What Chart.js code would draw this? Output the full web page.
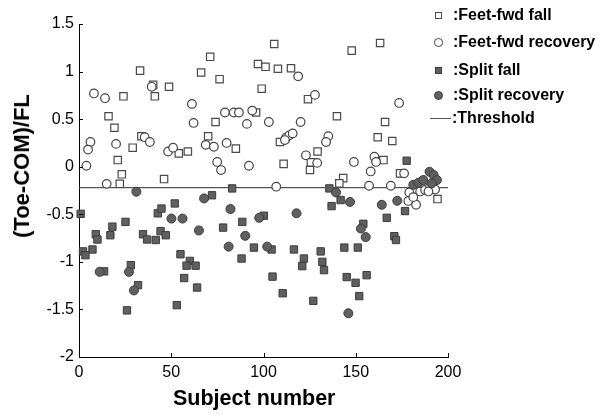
<!DOCTYPE html>
<html>
<head>
<meta charset="utf-8">
<script src="https://cdn.jsdelivr.net/npm/chart.js@4/dist/chart.umd.min.js"></script>
<style>
  html, body { margin:0; padding:0; background:#fff; }
  #wrap { position:relative; width:604px; height:418px; font-family:"Liberation Sans", Arial, sans-serif; }
  canvas { position:absolute; left:0; top:0; }
  .ttl { position:absolute; font-weight:bold; color:#000; white-space:nowrap; }
  .leg { position:absolute; font-size:16px; font-weight:bold; color:#000; white-space:nowrap; line-height:16px; }
  .sym { position:absolute; box-sizing:border-box; }
</style>
</head>
<body>
<div id="wrap">
  <canvas id="c" width="604" height="418"></canvas>
  <div class="ttl" id="xt" style="font-size:21.5px;left:173px;top:386px;">Subject number</div>
  <div class="ttl" id="yt" style="font-size:22px;left:22px;top:166px;transform:translate(-50%,-50%) rotate(-90deg);">(Toe-COM)/FL</div>

  <div class="sym" style="left:434.5px;top:11.5px;width:7px;height:7px;border:1.2px solid #4a4a4a;background:#fff;"></div>
  <div class="leg" style="left:453px;top:7px;">:Feet-fwd fall</div>
  <div class="sym" style="left:434px;top:38px;width:8.5px;height:8.5px;border:1.2px solid #444;border-radius:50%;background:#fff;"></div>
  <div class="leg" style="left:453px;top:34px;">:Feet-fwd recovery</div>
  <div class="sym" style="left:434.5px;top:66.5px;width:7px;height:7px;border:1px solid #3c3c3c;background:#606060;"></div>
  <div class="leg" style="left:453px;top:62px;">:Split fall</div>
  <div class="sym" style="left:434px;top:91px;width:9px;height:9px;border:1px solid #3c3c3c;border-radius:50%;background:#606060;"></div>
  <div class="leg" style="left:453px;top:87px;">:Split recovery</div>
  <div class="sym" style="left:430px;top:117.5px;width:21px;height:0;border-top:1.3px solid #555;"></div>
  <div class="leg" style="left:452px;top:110px;">:Threshold</div>
</div>
<script>
// ---- data ----
const feetFwdFall = [
  [33.1,1.01],[40.2,0.86],[41.1,0.74],[24.1,0.74],[16.0,0.53],[19.2,0.41],[33.8,0.32],[29.1,0.20],[21.0,0.07],[23.2,-0.08],[22.1,-0.18],
  [71.1,1.155],[66.2,0.99],[76.2,0.92],[48.8,0.84],[74.0,0.47],[70.0,0.32],[54.1,0.14],[59.0,0.16],[85.0,0.19],[46.1,-0.13],
  [105.8,1.29],[97.0,1.08],[101.1,1.05],[107.8,1.03],[114.9,1.035],[99.0,0.82],[124.1,0.71],[96.0,0.57],[108.9,0.26],[110.9,0.03],
  [125.2,-0.035],[125.7,0.046],[129.3,0.16],
  [147.8,1.22],[163.2,1.30],[139.8,0.53],[165.9,0.47],[161.9,0.31],[169.8,0.27],[165.0,0.07],[143.2,-0.12],[141.1,-0.175],
  [174.0,-0.07],[194.3,-0.34]
];
const feetFwdRecovery = [
  [8.1,0.77],[14.1,0.72],[39.4,0.84],[6.2,0.26],[4.9,0.18],[20.1,0.24],[35.6,0.31],[38.4,0.26],[4.0,0.01],[15.0,-0.18],
  [61.2,0.66],[62.1,0.46],[79.1,0.57],[83.9,0.57],[86.7,0.57],[48.3,0.16],[51.0,0.20],[68.7,0.23],[73.1,0.21],[80.0,0.25],
  [74.9,0.05],[77.0,-0.035],
  [118.8,0.95],[127.9,0.755],[93.9,0.59],[91.0,0.45],[102.9,0.47],[120.1,0.47],[112.2,0.305],[114.0,0.33],[115.8,0.35],
  [111.6,0.28],[92.1,0.01],[123.0,0.12],[106.9,-0.21],
  [173.5,0.67],[135.1,0.32],[133.9,0.26],[129.1,0.04],[149.0,0.05],[160.1,0.105],[161.0,0.05],[158.1,-0.05],[157.2,-0.2],
  [169.0,-0.2],[176.2,-0.07],
  [179.0,-0.27],[178.5,-0.36],[182.7,-0.40],[181.2,-0.32],[184.9,-0.26],[187.6,-0.245],[190.3,-0.21],[193.0,-0.24],[189.4,-0.26]
];
const splitFall = [
  [0.9,-0.495],[25.2,-0.58],[18.1,-0.63],[17.0,-0.72],[9.1,-0.71],[10.0,-0.765],[7.3,-0.87],[2.2,-0.89],[3.5,-0.93],
  [34.7,-0.71],[36.9,-0.765],[41.6,-0.77],[42.7,-0.49],[13.6,-1.10],[28.1,-1.035],[32.0,-1.245],[26.0,-1.51],
  [83.0,-0.228],[72.1,-0.30],[51.9,-0.386],[44.7,-0.44],[78.1,-0.64],[44.2,-0.677],[47.0,-0.72],[55.0,-0.92],[60.1,-0.99],
  [58.3,-1.04],[63.2,-1.04],[57.0,-1.17],[64.0,-1.27],[53.0,-1.455],[88.1,-0.965],[88.5,-0.58],
  [100.2,-0.515],[94.8,-0.85],[104.4,-0.87],[104.9,-1.155],
  [135.7,-0.228],[141.8,-0.35],[136.9,-0.414],[177.6,0.063],[176.7,-0.466],[166.8,-0.537],[154.1,-0.6],[170.9,-0.73],
  [171.8,-0.77],[116.5,-0.87],[121.9,-0.965],[121.0,-1.045],[131.0,-0.89],[131.9,-1.0],[132.8,-1.087],[143.8,-0.85],
  [151.1,-0.85],[145.1,-1.16],[149.9,-1.22],[155.9,-1.14],[151.9,-1.36],[110.4,-1.33],[127.0,-1.41]
];
const splitRecovery = [
  [31.1,-0.263],[11.2,-1.105],[27.1,-1.105],[29.8,-1.30],
  [67.8,-0.333],[50.1,-0.545],[56.1,-0.545],[82.1,-0.445],[65.0,-0.67],[81.1,-0.84],
  [97.7,-0.537],[117.9,-0.49],[90.1,-0.726],[102.0,-0.84],
  [139.3,-0.27],[146.9,-0.37],[164.1,-0.40],[172.5,-0.358],[152.8,-0.65],[155.4,-0.74],[146.0,-1.54],
  [190.0,-0.053],[192.2,-0.087],[181.2,-0.19],[184.0,-0.168],[186.6,-0.14],[194.0,-0.14],[191.2,-0.175]
];
const thresholdValue = -0.22;
const thresholdRange = [0, 200];
const xTicks = [0, 50, 100, 150, 200];
const yTicks = [1.5, 1, 0.5, 0, -0.5, -1, -1.5, -2];
const yTickLabels = ['1.5', '1', '0.5', '0', '-0.5', '-1', '-1.5', '-2'];

const toPts = a => a.map(p => ({x: p[0], y: p[1]}));

const inwardTicks = {
  id: 'inwardTicks',
  afterDraw(chart) {
    const ctx = chart.ctx, xs = chart.scales.x, ys = chart.scales.y;
    const ca = chart.chartArea;
    ctx.save();
    ctx.strokeStyle = '#000';
    ctx.lineWidth = 1;
    ctx.beginPath();
    xTicks.forEach(v => {
      const px = Math.round(xs.getPixelForValue(v)) + 0.5;
      ctx.moveTo(px, ca.bottom); ctx.lineTo(px, ca.bottom - 4);
    });
    yTicks.forEach(v => {
      const py = Math.round(ys.getPixelForValue(v)) + 0.5;
      ctx.moveTo(ca.left, py); ctx.lineTo(ca.left + 4, py);
    });
    ctx.stroke();
    ctx.restore();
  }
};

new Chart(document.getElementById('c'), {
  type: 'scatter',
  data: {
    datasets: [
      { label: 'Threshold', type: 'line', data: thresholdRange.map(x => ({x, y: thresholdValue})),
        borderColor: '#555', borderWidth: 1.3, pointRadius: 0, fill: false, order: 5 },
      { label: 'Feet-fwd fall', data: toPts(feetFwdFall), pointStyle: 'rect', pointRadius: 5.2, clip: false,
        backgroundColor: '#fff', borderColor: '#4a4a4a', borderWidth: 1.2, order: 4 },
      { label: 'Feet-fwd recovery', data: toPts(feetFwdRecovery), pointStyle: 'circle', pointRadius: 4.3, clip: false,
        backgroundColor: '#fff', borderColor: '#444', borderWidth: 1.2, order: 3 },
      { label: 'Split fall', data: toPts(splitFall), pointStyle: 'rect', pointRadius: 5.2, clip: false,
        backgroundColor: '#606060', borderColor: '#3c3c3c', borderWidth: 1, order: 2 },
      { label: 'Split recovery', data: toPts(splitRecovery), pointStyle: 'circle', pointRadius: 4.5, clip: false,
        backgroundColor: '#606060', borderColor: '#3c3c3c', borderWidth: 1, order: 1 }
    ]
  },
  options: {
    responsive: false,
    animation: false,
    devicePixelRatio: 1,
    layout: { padding: { left: 0, top: 24, right: 156, bottom: 0 } },
    plugins: { legend: { display: false }, tooltip: { enabled: false } },
    scales: {
      x: {
        type: 'linear', min: 0, max: 200,
        afterFit(s) { s.height = 61; },
        afterBuildTicks(s) { s.ticks = xTicks.map(v => ({value: v})); },
        grid: { display: false, drawTicks: false },
        border: { display: true, color: '#000', width: 1 },
        ticks: { color: '#000', padding: 6, font: { family: '"Liberation Sans", Arial, sans-serif', size: 16 },
                 callback: v => String(v), maxRotation: 0 }
      },
      y: {
        type: 'linear', min: -2, max: 1.5,
        afterFit(s) { s.width = 79; },
        afterBuildTicks(s) { s.ticks = yTicks.map(v => ({value: v})); },
        grid: { display: false, drawTicks: false },
        border: { display: true, color: '#000', width: 1 },
        ticks: { color: '#000', padding: 5, font: { family: '"Liberation Sans", Arial, sans-serif', size: 16 },
                 callback: v => { const i = yTicks.indexOf(v); return i >= 0 ? yTickLabels[i] : ''; } }
      }
    }
  },
  plugins: [inwardTicks]
});
</script>
</body>
</html>
